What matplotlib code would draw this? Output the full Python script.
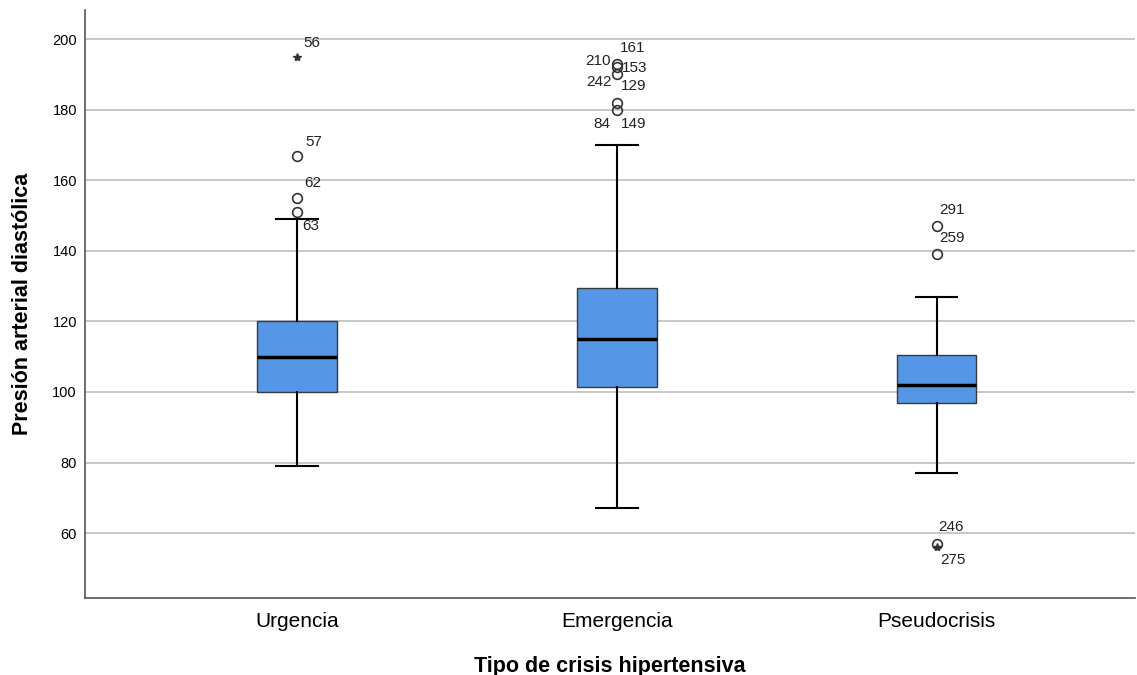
import matplotlib
matplotlib.use("Agg")
import matplotlib.pyplot as plt

plt.rcParams['font.family'] = ['Liberation Sans', 'DejaVu Sans']

# Data
categories = ["Urgencia", "Emergencia", "Pseudocrisis"]
q1 = [100, 101.5, 97]
medians = [110, 115, 102]
q3 = [120, 129.5, 110.5]
whisker_low = [79, 67, 77]
whisker_high = [149, 170, 127]
outliers = [[167, 155, 151], [193, 192, 190, 182, 180], [147, 139, 57]]
extremes = [[195], [], [56]]

# case labels: (group index, value, text)
case_labels = [
    (0, 195, "56"), (0, 167, "57"), (0, 155, "62"), (0, 151, "63"),
    (1, 193, "161"), (1, 192, "210"), (1, 192, "153"), (1, 190, "242"),
    (1, 190, "129"), (1, 180, "84"), (1, 180, "149"),
    (2, 147, "291"), (2, 139, "259"), (2, 57, "246"), (2, 56, "275"),
]
# text offsets in points (negative dx -> text to the left of the point)
label_offsets = [
    (4.3, 10), (5.8, 10), (5, 10.8), (3.6, -10),
    (2.2, 11.5), (-4.3, 4.3), (3.6, -0.7), (-3.6, -5.8),
    (2.9, -8.6), (-4.3, -10), (2.9, -10),
    (2.2, 11.5), (2.2, 11.5), (1.4, 12.2), (2.9, -9),
]

positions = [1, 2, 3]
stats = []
for i, name in enumerate(categories):
    stats.append({
        "label": name, "med": medians[i], "q1": q1[i], "q3": q3[i],
        "whislo": whisker_low[i], "whishi": whisker_high[i], "fliers": [],
    })

fig = plt.figure(figsize=(11.37, 6.75), dpi=100)
ax = fig.add_axes([0.075, 0.114, 0.923, 0.871])

ax.bxp(stats, positions=positions, widths=0.25, patch_artist=True,
       showfliers=False, capwidths=0.13,
       boxprops=dict(facecolor="#5597E6", edgecolor="#3a3a3a", linewidth=1.0),
       medianprops=dict(color="black", linewidth=2.5),
       whiskerprops=dict(color="black", linewidth=1.5),
       capprops=dict(color="black", linewidth=1.5))

for i, pos in enumerate(positions):
    if outliers[i]:
        ax.plot([pos] * len(outliers[i]), outliers[i], linestyle="none",
                marker="o", markersize=7, markerfacecolor="none",
                markeredgecolor="#333333", markeredgewidth=1.2)
    if extremes[i]:
        ax.plot([pos] * len(extremes[i]), extremes[i], linestyle="none",
                marker="*", markersize=6, color="#333333")

for (g, val, txt), (dx, dy) in zip(case_labels, label_offsets):
    ax.annotate(txt, (positions[g], val), xytext=(dx, dy),
                textcoords="offset points", fontsize=11, color="#222222",
                ha="right" if dx < 0 else "left", va="center")

ax.set_xlim(0.3375, 3.62)
ax.set_ylim(41.6, 208.2)
ax.set_yticks([60, 80, 100, 120, 140, 160, 180, 200])
ax.set_xticks(positions)
ax.set_xticklabels(categories, fontsize=15)
ax.tick_params(axis="y", labelsize=10.5, length=0, pad=6)
ax.tick_params(axis="x", length=0, pad=10)
ax.yaxis.grid(True, color="#bdbdbd", linewidth=1.2)
ax.set_axisbelow(True)
for side in ["top", "right"]:
    ax.spines[side].set_visible(False)
for side in ["left", "bottom"]:
    ax.spines[side].set_color("#555555")
    ax.spines[side].set_linewidth(1.2)

ax.set_ylabel("Presión arterial diastólica", fontsize=15.5, fontweight="bold", labelpad=14)
ax.set_xlabel("Tipo de crisis hipertensiva", fontsize=15.5, fontweight="bold", labelpad=18)

fig.savefig("out.png", dpi=100)
